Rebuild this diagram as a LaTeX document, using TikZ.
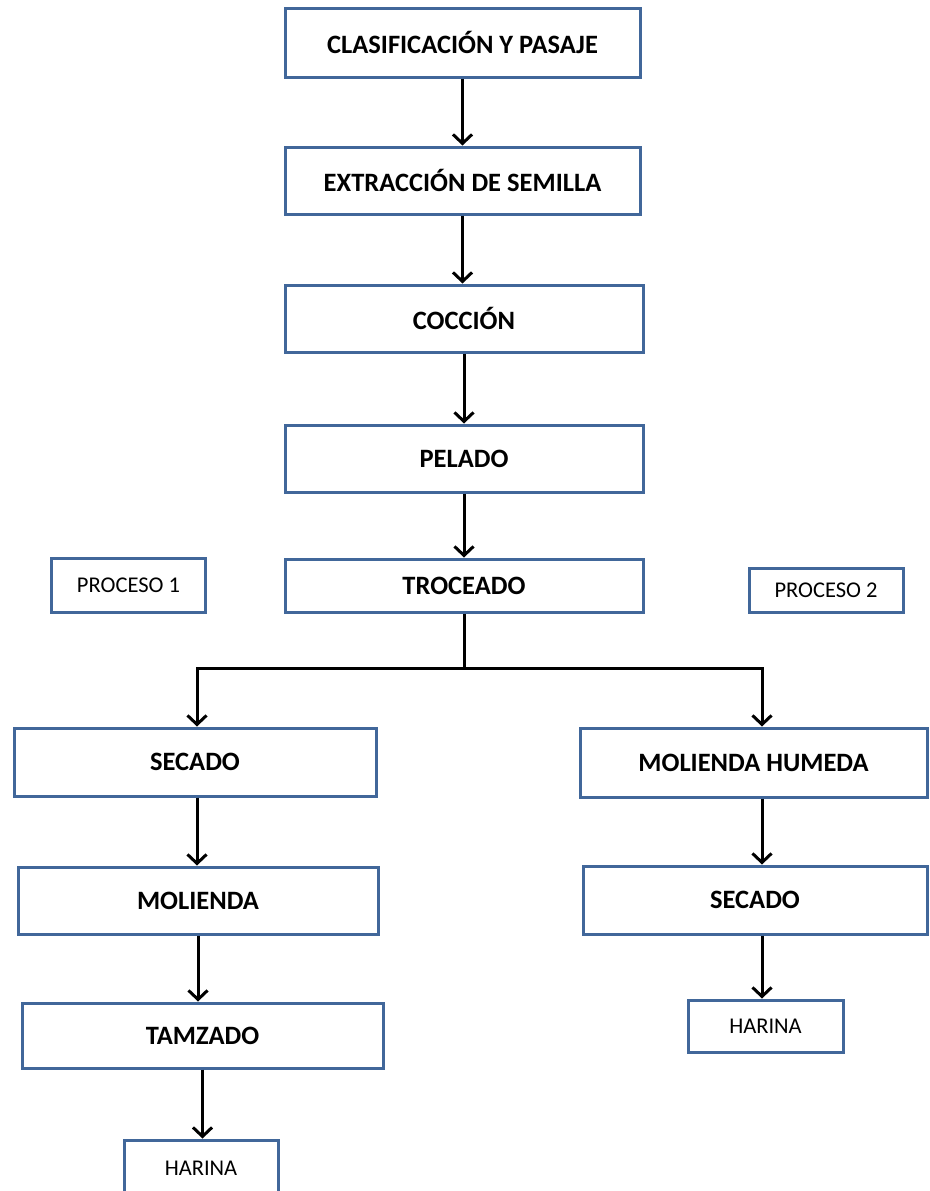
\documentclass[tikz,border=0pt]{standalone}
\usepackage{fontspec}
\setmainfont{Carlito}
\usepackage{xcolor}
\usetikzlibrary{arrows.meta}
\definecolor{boxblue}{HTML}{41679A}

\begin{document}
\begin{tikzpicture}[x=1pt,y=-1pt,
  paso/.style={draw=boxblue,line width=3pt,fill=white,inner sep=0pt,
    font=\fontsize{26.5}{30}\selectfont\bfseries},
  chico/.style={paso,font=\fontsize{22.5}{26}\selectfont},
  flecha/.style={line width=3pt,-{Straight Barb[length=9pt,width=19pt,line width=3pt]}},
  linea/.style={line width=3pt}]

\useasboundingbox (0,0) rectangle (929,1191);									% marco

% cadena principal
\node[paso,minimum width=355pt,minimum height=69pt] (clasif) at (462.5,42.5) {CLASIFICACIÓN Y PASAJE};
\node[paso,minimum width=355pt,minimum height=67pt] (extrac) at (462.5,180.5) {EXTRACCIÓN DE SEMILLA};
\node[paso,minimum width=358pt,minimum height=67pt] (coccion) at (464,318.5) {COCCIÓN};
\node[paso,minimum width=358pt,minimum height=67pt] (pelado) at (464,458.5) {PELADO};
\node[paso,minimum width=358pt,minimum height=53pt] (troceado) at (464,585.5) {TROCEADO};

% etiquetas de proceso
\node[chico,minimum width=154pt,minimum height=54pt] (proc1) at (128.5,585) {PROCESO 1};
\node[chico,minimum width=154pt,minimum height=44pt] (proc2) at (826,590) {PROCESO 2};

% proceso 1
\node[paso,minimum width=362pt,minimum height=68pt] (secado1) at (195,762) {SECADO};
\node[paso,minimum width=360pt,minimum height=67pt] (molienda) at (198,900.5) {MOLIENDA};
\node[paso,minimum width=361pt,minimum height=65pt] (tamzado) at (202.5,1035.5) {TAMZADO};
\node[chico,minimum width=154pt,minimum height=56pt] (harina1) at (201,1168) {HARINA};

% proceso 2
\node[paso,minimum width=347pt,minimum height=69pt] (molhum) at (753.5,762.5) {MOLIENDA HUMEDA};
\node[paso,minimum width=344pt,minimum height=68pt] (secado2) at (755,900) {SECADO};
\node[chico,minimum width=155pt,minimum height=52pt] (harina2) at (765.5,1026) {HARINA};

% flechas
\draw[flecha] (clasif.south) -- (clasif.south |- extrac.north);
\draw[flecha] (extrac.south) -- (extrac.south |- coccion.north);
\draw[flecha] (coccion.south) -- (coccion.south |- pelado.north);
\draw[flecha] (pelado.south) -- (pelado.south |- troceado.north);

\coordinate (reparto) at (troceado.south |- 0,668);							% bifurcacion
\draw[linea] (troceado.south) -- (reparto);
\draw[flecha] (reparto) -| ([xshift=2pt]secado1.north);						% hacia proceso 1
\draw[flecha] (reparto) -| ([xshift=8.5pt]molhum.north);						% hacia proceso 2

\draw[flecha] ([xshift=2pt]secado1.south) -- ([xshift=2pt]secado1.south |- molienda.north);
\draw[flecha] (molienda.south) -- (molienda.south |- tamzado.north);
\draw[flecha] (tamzado.south) -- (tamzado.south |- harina1.north);

\draw[flecha] ([xshift=8.5pt]molhum.south) -- ([xshift=8.5pt]molhum.south |- secado2.north);
\draw[flecha] ([xshift=7pt]secado2.south) -- ([xshift=7pt]secado2.south |- harina2.north);

\end{tikzpicture}
\end{document}
